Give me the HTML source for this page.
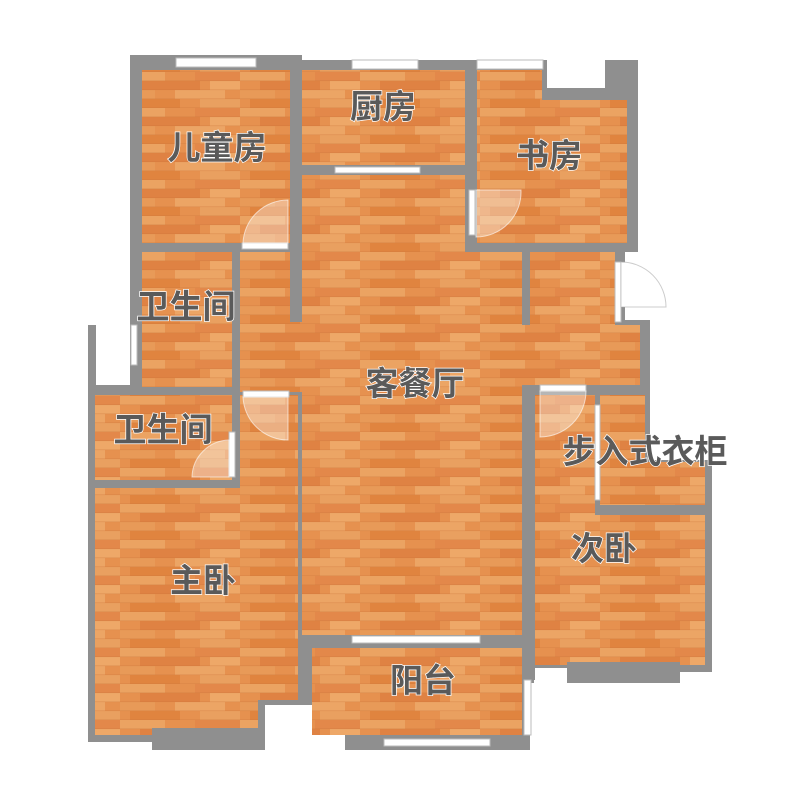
<!DOCTYPE html>
<html><head><meta charset="utf-8"><style>
html,body{margin:0;padding:0;background:#fff;}
svg{display:block}
text{font-family:"Liberation Sans","Noto Sans CJK SC",sans-serif;font-size:33px;font-weight:bold;fill:#5a5a5a;stroke:#fff;stroke-width:1.5px;paint-order:stroke;text-anchor:middle;}
</style></head><body>
<svg width="800" height="800" viewBox="0 0 800 800" xmlns="http://www.w3.org/2000/svg">
<defs>
<pattern id="w" width="120" height="36" patternUnits="userSpaceOnUse">
<rect width="120" height="36" fill="#e6914f"/>
<rect x="0" y="0" width="45" height="9" fill="#eba362"/>
<rect x="75" y="0" width="45" height="9" fill="#e3884a"/>
<rect x="20" y="9" width="60" height="9" fill="#df8243"/>
<rect x="90" y="9" width="30" height="9" fill="#eea868"/>
<rect x="0" y="18" width="35" height="9" fill="#e89a58"/>
<rect x="55" y="18" width="50" height="9" fill="#eca565"/>
<rect x="10" y="27" width="50" height="9" fill="#e0843f"/>
<rect x="80" y="27" width="40" height="9" fill="#e9a060"/>
<rect x="0" y="8.5" width="120" height="0.6" fill="#c9733a" opacity=".5"/>
<rect x="0" y="17.5" width="120" height="0.6" fill="#c9733a" opacity=".5"/>
<rect x="0" y="26.5" width="120" height="0.6" fill="#c9733a" opacity=".5"/>
<rect x="0" y="35.5" width="120" height="0.6" fill="#c9733a" opacity=".5"/>
</pattern>
</defs>
<g fill="#8f8f8f">
<rect x="130" y="55" width="172" height="200"/>
<rect x="290" y="60" width="188" height="120"/>
<rect x="465" y="60" width="173" height="192"/>
<rect x="130" y="243" width="495" height="150"/>
<rect x="600" y="320" width="50" height="73"/>
<rect x="88" y="385" width="220" height="365"/>
<rect x="88" y="325" width="8" height="65"/>
<rect x="298" y="165" width="240" height="485"/>
<rect x="525" y="380" width="125" height="300"/>
<rect x="640" y="460" width="72" height="220"/>
<rect x="302" y="640" width="232" height="110"/>
</g>
<rect x="547" y="50" width="58" height="38" fill="#fff"/>
<rect x="265" y="705" width="80" height="50" fill="#fff"/>
<rect x="88" y="742" width="64" height="12" fill="#fff"/>
<rect x="530" y="683" width="190" height="70" fill="#fff"/>
<rect x="535" y="668" width="32" height="20" fill="#fff"/>
<rect x="680" y="672" width="40" height="20" fill="#fff"/>
<g fill="url(#w)">
<rect x="142" y="70" width="148" height="173"/>
<rect x="302" y="70" width="163" height="95"/>
<rect x="477" y="100" width="150" height="143"/>
<rect x="477" y="70" width="65" height="35"/>
<rect x="302" y="175" width="163" height="80"/>
<rect x="302" y="252" width="220" height="383"/>
<rect x="240" y="252" width="50" height="140"/>
<rect x="290" y="322" width="15" height="70"/>
<rect x="142" y="252" width="90" height="135"/>
<rect x="530" y="252" width="85" height="73"/>
<rect x="522" y="325" width="118" height="60"/>
<rect x="95" y="395" width="137" height="85"/>
<rect x="240" y="395" width="58" height="95"/>
<rect x="95" y="488" width="203" height="212"/>
<rect x="95" y="700" width="163" height="35"/>
<rect x="312" y="648" width="210" height="87"/>
<rect x="535" y="395" width="60" height="270"/>
<rect x="595" y="515" width="110" height="150"/>
<rect x="600" y="395" width="45" height="110"/>
<rect x="600" y="462" width="105" height="43"/>
</g>
<rect x="152" y="728" width="113" height="22" fill="#8f8f8f"/>
<rect x="345" y="735" width="185" height="15" fill="#8f8f8f"/>
<rect x="567" y="662" width="113" height="21" fill="#8f8f8f"/>
<g fill="#fff" stroke="#bbb" stroke-width="1">
<rect x="176" y="58" width="80" height="9"/>
<rect x="352" y="60" width="66" height="9"/>
<rect x="477" y="60" width="66" height="9"/>
<rect x="335" y="167" width="85" height="6"/>
<rect x="469" y="190" width="6" height="45"/>
<rect x="615" y="262" width="6" height="60"/>
<rect x="131" y="325" width="6" height="40"/>
<rect x="352" y="636" width="128" height="7"/>
<rect x="384" y="739" width="106" height="7"/>
<rect x="524" y="680" width="7" height="55"/>
<rect x="595" y="405" width="5" height="95"/>
<rect x="242" y="243" width="46" height="6"/>
<rect x="243" y="391" width="46" height="6"/>
<rect x="540" y="385" width="46" height="6"/>
<rect x="229" y="432" width="6" height="45"/>
</g>
<g fill="#fff" fill-opacity=".35" stroke="#fff" stroke-opacity=".6">
<path d="M288 243 L288 200 A45 45 0 0 0 243 243 Z"/>
<path d="M476 237 L476 190 L521 190 A45 45 0 0 1 476 237 Z"/>
<path d="M621 262 A45 45 0 0 1 666 307 L621 307 Z" fill="#fff" fill-opacity="1" stroke="#aaa"/>
<path d="M243 397 L288 397 L288 440 A45 45 0 0 1 243 397 Z"/>
<path d="M229 477 L192 477 A38 38 0 0 1 229 440 Z"/>
<path d="M540 391 L586 391 A46 46 0 0 1 540 437 Z"/>
</g>
<text x="217" y="159">儿童房</text>
<text x="383" y="118">厨房</text>
<text x="549" y="167">书房</text>
<text x="186" y="318">卫生间</text>
<text x="415" y="395">客餐厅</text>
<text x="163" y="441">卫生间</text>
<text x="645" y="463">步入式衣柜</text>
<text x="604" y="560">次卧</text>
<text x="203" y="592">主卧</text>
<text x="423" y="692">阳台</text>
</svg>
</body></html>
